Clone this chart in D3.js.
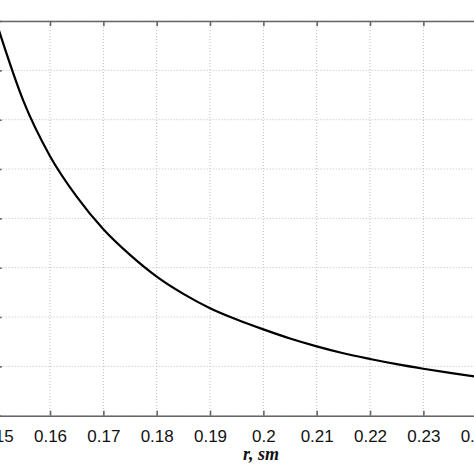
<!DOCTYPE html>
<html>
<head>
<meta charset="utf-8">
<script src="https://cdn.jsdelivr.net/npm/d3@7"></script>
<style>
  body { margin: 0; background: #fff; }
  svg { display: block; }
  .grid line { stroke: #bdbdbd; stroke-dasharray: 1,2; }
  .axis path, .axis line { stroke: #666; }
  .axis text { font-family: Arial, "Liberation Sans", sans-serif; font-size: 17px; fill: #111; }
</style>
</head>
<body>
<div id="chart"></div>
<script>
const W = 474, H = 474;
const margin = {top: 21, left: -3.3};
const plotW = 480, plotH = 394.7;

// radius r (sm) and the read-off curve values (arbitrary units, y labels are cut off)
const rValues = [0.15, 0.155, 0.16, 0.165, 0.17, 0.175, 0.18, 0.185, 0.19, 0.195,
                 0.2, 0.205, 0.21, 0.215, 0.22, 0.225, 0.23, 0.235, 0.24];
const fValues = [7.95, 6.38, 5.26, 4.44, 3.78, 3.26, 2.82, 2.47, 2.18, 1.95,
                 1.75, 1.565, 1.405, 1.265, 1.15, 1.045, 0.952, 0.867, 0.787];
const xTicks = [0.15, 0.16, 0.17, 0.18, 0.19, 0.2, 0.21, 0.22, 0.23, 0.24];
const yTicks = [0, 1, 2, 3, 4, 5, 6, 7, 8];

const svg = d3.select('#chart').append('svg')
    .attr('width', W)
    .attr('height', H);

const g = svg.append('g')
    .attr('transform', `translate(${margin.left},${margin.top})`);

const x = d3.scaleLinear().domain([0.15, 0.24]).range([0, plotW]);
const y = d3.scaleLinear().domain([0, 8]).range([plotH, 0]);

// grid
g.append('g').attr('class', 'grid')
  .selectAll('line').data(xTicks).join('line')
    .attr('x1', d => x(d)).attr('x2', d => x(d))
    .attr('y1', 0).attr('y2', plotH);
g.append('g').attr('class', 'grid')
  .selectAll('line').data(yTicks).join('line')
    .attr('x1', 0).attr('x2', plotW)
    .attr('y1', d => y(d)).attr('y2', d => y(d));

// axes, matlab style: ticks pointing inwards
const fmt = d3.format('.2~f');
g.append('g').attr('class', 'axis')
    .attr('transform', `translate(0,${plotH})`)
    .call(d3.axisBottom(x).tickValues(xTicks).tickSize(-5).tickSizeOuter(0).tickPadding(14).tickFormat(fmt))
    .call(a => a.select('.domain').attr('stroke-width', 1.6))
    .call(a => a.selectAll('.tick line').attr('stroke-width', 1.6));
g.append('g').attr('class', 'axis')
    .call(d3.axisTop(x).tickValues(xTicks).tickSize(-5).tickSizeOuter(0).tickFormat(''))
    .call(a => a.select('.domain').attr('stroke-width', 1.6))
    .call(a => a.selectAll('.tick line').attr('stroke-width', 1.6));
g.append('g').attr('class', 'axis')
    .call(d3.axisLeft(y).tickValues(yTicks).tickSize(-5).tickSizeOuter(0).tickFormat(''))
    .call(a => a.select('.domain').attr('stroke-width', 1.6))
    .call(a => a.selectAll('.tick line').attr('stroke-width', 1.6));

// curve
const line = d3.line()
    .x((d, i) => x(rValues[i]))
    .y(d => y(d))
    .curve(d3.curveMonotoneX);

g.append('path')
    .datum(fValues)
    .attr('fill', 'none')
    .attr('stroke', '#000')
    .attr('stroke-width', 2.2)
    .attr('d', line);

// x label
svg.append('text')
    .attr('x', 243)
    .attr('y', 460)
    .style('font-family', '"Liberation Serif", "Times New Roman", serif')
    .style('font-style', 'italic')
    .style('font-weight', 'bold')
    .style('font-size', '18px')
    .style('fill', '#111')
    .text('r, sm');
</script>
</body>
</html>
